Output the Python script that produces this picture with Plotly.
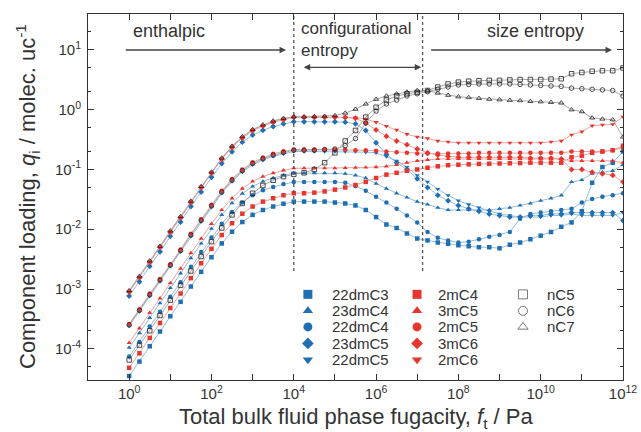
import math
import plotly.graph_objects as go

# total bulk fluid phase fugacity, Pa (4 points per decade, 10^0 .. 10^12)
fug = [1e0, 1.78e0, 3.16e0, 5.62e0, 1e1, 1.78e1, 3.16e1, 5.62e1,
       1e2, 1.78e2, 3.16e2, 5.62e2, 1e3, 1.78e3, 3.16e3, 5.62e3,
       1e4, 1.78e4, 3.16e4, 5.62e4, 1e5, 1.78e5, 3.16e5, 5.62e5,
       1e6, 1.78e6, 3.16e6, 5.62e6, 1e7, 1.78e7, 3.16e7, 5.62e7,
       1e8, 1.78e8, 3.16e8, 5.62e8, 1e9, 1.78e9, 3.16e9, 5.62e9,
       1e10, 1.78e10, 3.16e10, 5.62e10, 1e11, 1.78e11, 3.16e11, 5.62e11, 1e12]

# component loadings, molecules per unit cell
q_22dmC3 = [3.5e-5, 6.1e-5, 1.1e-4, 1.94e-4, 3.5e-4, 6.1e-4, 1.1e-3, 1.94e-3, 3.4e-3, 5.8e-3, 9.1e-3, 1.32e-2, 1.74e-2, 2.1e-2, 2.4e-2, 2.67e-2,
            0.029, 0.029, 0.029, 0.029, 0.028, 0.027, 0.025, 0.021, 0.016, 0.012, 0.0105, 0.0085, 0.007, 0.0065, 0.006, 0.0057,
            0.0054, 0.0052, 0.005, 0.005, 0.0048, 0.0055, 0.006, 0.0068, 0.0078, 0.009, 0.011, 0.013, 0.02, 0.06, 0.11, 0.13, 0.2]
q_23dmC4 = [1.04e-4, 1.83e-4, 3.3e-4, 5.8e-4, 1.04e-3, 1.83e-3, 3.3e-3, 5.8e-3, 1.02e-2, 1.74e-2, 2.74e-2, 3.96e-2, 5.2e-2, 6.3e-2, 7.2e-2, 8.0e-2,
            0.087, 0.087, 0.087, 0.087, 0.087, 0.085, 0.08, 0.072, 0.058, 0.048, 0.04, 0.034, 0.029, 0.026, 0.023, 0.021,
            0.021, 0.021, 0.021, 0.021, 0.022, 0.023, 0.025, 0.027, 0.03, 0.033, 0.037, 0.062, 0.067, 0.085, 0.09, 0.095, 0.12]
q_22dmC4 = [7.4e-5, 1.3e-4, 2.36e-4, 4.15e-4, 7.4e-4, 1.3e-3, 2.36e-3, 4.15e-3, 7.3e-3, 1.24e-2, 1.95e-2, 2.8e-2, 3.7e-2, 4.5e-2, 5.1e-2, 5.7e-2,
            0.062, 0.062, 0.062, 0.062, 0.062, 0.06, 0.053, 0.044, 0.035, 0.028, 0.022, 0.017, 0.013, 0.009, 0.0072, 0.0065,
            0.006, 0.0062, 0.0068, 0.0075, 0.008, 0.009, 0.015, 0.018, 0.019, 0.02, 0.021, 0.022, 0.028, 0.032, 0.035, 0.037, 0.04]
q_23dmC5 = [7.6e-4, 1.32e-3, 2.4e-3, 4.2e-3, 7.6e-3, 1.32e-2, 2.4e-2, 4.2e-2, 7.4e-2, 0.126, 0.198, 0.287, 0.378, 0.454, 0.523, 0.58,
            0.63, 0.63, 0.63, 0.63, 0.63, 0.62, 0.58, 0.45, 0.28, 0.18, 0.13, 0.1, 0.07, 0.05, 0.037, 0.03,
            0.025, 0.022, 0.02, 0.018, 0.017, 0.016, 0.016, 0.017, 0.017, 0.018, 0.018, 0.019, 0.019, 0.019, 0.019, 0.019, 0.014]
q_22dmC5 = [2.4e-4, 4.2e-4, 7.6e-4, 1.34e-3, 2.4e-3, 4.2e-3, 7.6e-3, 1.34e-2, 2.34e-2, 4.0e-2, 6.3e-2, 9.1e-2, 0.12, 0.144, 0.166, 0.184,
            0.2, 0.2, 0.2, 0.2, 0.2, 0.2, 0.2, 0.195, 0.19, 0.165, 0.14, 0.11, 0.08, 0.062, 0.047, 0.037,
            0.03, 0.026, 0.023, 0.02, 0.018, 0.017, 0.016, 0.016, 0.016, 0.017, 0.017, 0.018, 0.017, 0.017, 0.017, 0.017, 0.019]
q_2mC4 = [4.8e-5, 8.4e-5, 1.52e-4, 2.7e-4, 4.8e-4, 8.4e-4, 1.52e-3, 2.7e-3, 4.7e-3, 8.0e-3, 1.26e-2, 1.82e-2, 2.4e-2, 2.9e-2, 3.3e-2, 3.7e-2,
          0.04, 0.04, 0.041, 0.043, 0.046, 0.05, 0.055, 0.062, 0.072, 0.082, 0.088, 0.095, 0.1, 0.107, 0.113, 0.118,
          0.12, 0.122, 0.124, 0.125, 0.126, 0.127, 0.128, 0.13, 0.13, 0.13, 0.13, 0.16, 0.17, 0.19, 0.2, 0.21, 0.25]
q_3mC5 = [1.26e-4, 2.2e-4, 4.0e-4, 7.0e-4, 1.26e-3, 2.2e-3, 4.0e-3, 7.0e-3, 1.23e-2, 2.1e-2, 3.3e-2, 4.8e-2, 6.3e-2, 7.6e-2, 8.7e-2, 9.7e-2,
          0.105, 0.105, 0.105, 0.105, 0.105, 0.106, 0.107, 0.108, 0.11, 0.113, 0.12, 0.13, 0.14, 0.145, 0.15, 0.15,
          0.15, 0.15, 0.15, 0.15, 0.15, 0.15, 0.15, 0.15, 0.15, 0.15, 0.15, 0.14, 0.14, 0.14, 0.14, 0.14, 0.13]
q_2mC5 = [2.6e-4, 4.6e-4, 8.4e-4, 1.47e-3, 2.6e-3, 4.6e-3, 8.4e-3, 1.47e-2, 2.57e-2, 4.4e-2, 6.9e-2, 0.1, 0.132, 0.158, 0.183, 0.202,
          0.215, 0.215, 0.215, 0.215, 0.215, 0.215, 0.21, 0.21, 0.205, 0.2, 0.195, 0.19, 0.185, 0.185, 0.185, 0.185,
          0.185, 0.185, 0.19, 0.19, 0.19, 0.19, 0.19, 0.19, 0.19, 0.19, 0.19, 0.2, 0.2, 0.2, 0.2, 0.21, 0.23]
q_3mC6 = [8.9e-4, 1.55e-3, 2.8e-3, 5.0e-3, 8.9e-3, 1.55e-2, 2.8e-2, 5.0e-2, 8.7e-2, 0.148, 0.233, 0.337, 0.444, 0.533, 0.614, 0.68,
          0.75, 0.75, 0.75, 0.75, 0.75, 0.74, 0.72, 0.6, 0.46, 0.36, 0.3, 0.26, 0.22, 0.19, 0.175, 0.165,
          0.16, 0.16, 0.16, 0.16, 0.16, 0.16, 0.16, 0.155, 0.155, 0.155, 0.15, 0.1, 0.1, 0.09, 0.085, 0.08, 0.062]
q_2mC6 = [9.0e-4, 1.58e-3, 2.9e-3, 5.1e-3, 9.0e-3, 1.58e-2, 2.9e-2, 5.1e-2, 8.9e-2, 0.152, 0.24, 0.346, 0.456, 0.547, 0.63, 0.70,
          0.76, 0.76, 0.76, 0.76, 0.76, 0.76, 0.74, 0.7, 0.62, 0.53, 0.46, 0.39, 0.35, 0.33, 0.3, 0.29,
          0.28, 0.28, 0.28, 0.28, 0.28, 0.28, 0.28, 0.28, 0.28, 0.29, 0.3, 0.38, 0.43, 0.54, 0.56, 0.57, 0.76]
q_nC5 = [6.5e-5, 1.15e-4, 2.0e-4, 3.6e-4, 6.5e-4, 1.15e-3, 2.0e-3, 3.5e-3, 6.2e-3, 1.05e-2, 1.74e-2, 2.7e-2, 4.0e-2, 5.4e-2, 6.6e-2, 7.6e-2,
         0.083, 0.088, 0.1, 0.13, 0.19, 0.3, 0.45, 0.75, 1.1, 1.45, 1.7, 1.85, 1.95, 2.1, 2.4, 2.7,
         2.9, 3.0, 3.05, 3.1, 3.1, 3.15, 3.2, 3.2, 3.2, 3.25, 3.3, 4.0, 4.2, 4.4, 4.5, 4.5, 5.0]
q_nC6 = [2.5e-4, 4.4e-4, 8.0e-4, 1.41e-3, 2.5e-3, 4.4e-3, 8.0e-3, 1.41e-2, 2.46e-2, 4.2e-2, 6.6e-2, 9.6e-2, 0.126, 0.151, 0.174, 0.193,
         0.21, 0.21, 0.21, 0.215, 0.22, 0.25, 0.33, 0.6, 0.95, 1.25, 1.45, 1.7, 1.85, 2.0, 2.2, 2.4,
         2.6, 2.65, 2.7, 2.7, 2.7, 2.7, 2.65, 2.6, 2.55, 2.5, 2.45, 2.3, 2.25, 2.2, 2.15, 2.1, 1.7]
q_nC7 = [9.4e-4, 1.64e-3, 2.96e-3, 5.2e-3, 9.4e-3, 1.64e-2, 2.96e-2, 5.2e-2, 9.1e-2, 0.156, 0.246, 0.355, 0.468, 0.56, 0.65, 0.72,
         0.76, 0.76, 0.77, 0.78, 0.8, 0.88, 1.02, 1.25, 1.5, 1.7, 1.85, 1.98, 2.1, 2.1, 1.9, 1.75,
         1.65, 1.6, 1.55, 1.5, 1.47, 1.44, 1.42, 1.38, 1.36, 1.33, 1.3, 1.0, 0.93, 0.73, 0.7, 0.68, 0.35]

# regime boundaries (dashed lines) and their vertical extent
regime_f = [1e4, 1.35e7]
regime_q = [2e-3, 40]

x_tickvals = [1e0, 1e1, 1e2, 1e3, 1e4, 1e5, 1e6, 1e7, 1e8, 1e9, 1e10, 1e11, 1e12]
x_ticktext = ["10<sup>0</sup>", "", "10<sup>2</sup>", "", "10<sup>4</sup>", "", "10<sup>6</sup>", "",
              "10<sup>8</sup>", "", "10<sup>10</sup>", "", "10<sup>12</sup>"]
y_tickvals = [1e-4, 1e-3, 1e-2, 1e-1, 1e0, 1e1]
y_ticktext = ["10<sup>-4</sup>", "10<sup>-3</sup>", "10<sup>-2</sup>", "10<sup>-1</sup>", "10<sup>0</sup>", "10<sup>1</sup>"]
y_minor = [5e-5, 2e-4, 5e-4, 2e-3, 5e-3, 2e-2, 5e-2, 2e-1, 5e-1, 2e0, 5e0, 2e1]

BLUE = "#1f6fb2"
RED = "#e8352e"
BLUE_LINE = "#93bde0"
RED_LINE = "#f2a3a0"
GREY_LINE = "#a8a8a8"
OPEN = "#222222"

series = [
    ("22dmC3", q_22dmC3, "square", BLUE, BLUE_LINE),
    ("23dmC4", q_23dmC4, "triangle-up", BLUE, BLUE_LINE),
    ("22dmC4", q_22dmC4, "circle", BLUE, BLUE_LINE),
    ("23dmC5", q_23dmC5, "diamond", BLUE, BLUE_LINE),
    ("22dmC5", q_22dmC5, "triangle-down", BLUE, BLUE_LINE),
    ("2mC4", q_2mC4, "square", RED, RED_LINE),
    ("3mC5", q_3mC5, "triangle-up", RED, RED_LINE),
    ("2mC5", q_2mC5, "circle", RED, RED_LINE),
    ("3mC6", q_3mC6, "diamond", RED, RED_LINE),
    ("2mC6", q_2mC6, "triangle-down", RED, RED_LINE),
    ("nC5", q_nC5, "square-open", OPEN, GREY_LINE),
    ("nC6", q_nC6, "circle-open", OPEN, GREY_LINE),
    ("nC7", q_nC7, "triangle-up-open", OPEN, GREY_LINE),
]

# legend layout: 3 columns x 5 rows, placed as fractions of the plot area
leg_marker_x = [0.411, 0.615, 0.813]
leg_text_x = [0.452, 0.650, 0.854]
leg_row_y = [0.234, 0.189, 0.145, 0.100, 0.055]

fig = go.Figure()

# connecting lines
for name, q, sym, mc, lc in series:
    fig.add_trace(go.Scatter(x=fug, y=q, mode="lines", line=dict(color=lc, width=1),
                             showlegend=False, hoverinfo="skip"))

# markers
for name, q, sym, mc, lc in series:
    is_open = sym.endswith("open")
    fig.add_trace(go.Scatter(
        x=fug, y=q, mode="markers", name=name, showlegend=False,
        marker=dict(symbol=sym, size=4.5, color=mc,
                    line=dict(width=0.8 if is_open else 0, color=mc)),
    ))

# regime boundaries
for fb in regime_f:
    fig.add_trace(go.Scatter(x=[fb, fb], y=regime_q, mode="lines",
                             line=dict(color="#555555", width=1.3, dash="dot"),
                             showlegend=False, hoverinfo="skip"))

# legend key (drawn on an overlay axis spanning the plot area)
leg_font = dict(family="Liberation Sans, Arial", size=15, color="#333")
for i, (name, q, sym, mc, lc) in enumerate(series):
    col, row = divmod(i, 5)
    is_open = sym.endswith("open")
    fig.add_trace(go.Scatter(
        x=[leg_marker_x[col]], y=[leg_row_y[row]], xaxis="x2", yaxis="y2",
        mode="markers", showlegend=False, hoverinfo="skip",
        marker=dict(symbol=sym, size=9,
                    color=mc if not is_open else "#777777",
                    line=dict(width=1 if is_open else 0, color="#777777" if is_open else mc)),
    ))
    fig.add_annotation(x=leg_text_x[col], y=leg_row_y[row], xref="paper", yref="paper",
                       text=name, showarrow=False, xanchor="left", yanchor="middle", font=leg_font)

axis_common = dict(ticks="inside", ticklen=6, tickcolor="#333", mirror="ticks", showline=True,
                   linecolor="#333", linewidth=1, showgrid=False, zeroline=False,
                   tickfont=dict(size=15, color="#333"), automargin=False)
fig.update_layout(
    width=641, height=432,
    margin=dict(l=88, r=18, t=14, b=52),
    paper_bgcolor="white", plot_bgcolor="white",
    font=dict(family="Liberation Sans, Arial", color="#333"),
    showlegend=False,
    xaxis=dict(type="log", range=[-1, 12], tickvals=x_tickvals, ticktext=x_ticktext, **axis_common),
    yaxis=dict(type="log", range=[math.log10(3e-5), math.log10(40)], tickvals=y_tickvals,
               ticktext=y_ticktext, ticklabelstandoff=3,
               minor=dict(tickvals=y_minor, ticks="inside", ticklen=3, tickcolor="#333"),
               **axis_common),
    xaxis2=dict(overlaying="x", anchor="y2", range=[0, 1], visible=False, fixedrange=True),
    yaxis2=dict(overlaying="y", anchor="x2", range=[0, 1], visible=False, fixedrange=True),
)

# axis titles
title_font = dict(family="Liberation Sans, Arial", size=22, color="#333")
fig.add_annotation(x=0.5, y=-0.104, xref="paper", yref="paper", showarrow=False,
                   text="Total bulk fluid phase fugacity, <i>f</i><sub>t</sub> / Pa",
                   xanchor="center", yanchor="middle", font=title_font)
fig.add_annotation(x=-0.114, y=0.5, xref="paper", yref="paper", showarrow=False, textangle=-90,
                   text="Component loading, <i>q</i><sub>i</sub> / molec. uc<sup>-1</sup>",
                   xanchor="center", yanchor="middle", font=title_font)

# regime annotations
lx = math.log10
ann_font = dict(family="Liberation Sans, Arial", size=18, color="#333")
arrow_kw = dict(showarrow=True, arrowhead=2, arrowsize=1, arrowwidth=1.3, arrowcolor="#444",
                axref="x", ayref="y", text="")
fig.add_annotation(x=lx(6.5e3), y=1.0, ax=lx(0.76), ay=1.0, **arrow_kw)
fig.add_annotation(x=lx(1.25e7), y=0.71, ax=lx(1.6e4), ay=0.71, arrowside="end+start", **arrow_kw)
fig.add_annotation(x=lx(5.4e11), y=1.0, ax=lx(2.0e7), ay=1.0, **arrow_kw)
fig.add_annotation(x=lx(1.1), y=1.31, text="enthalpic", showarrow=False, xanchor="left", font=ann_font)
fig.add_annotation(x=lx(1.35e4), y=1.18, text="configurational<br>entropy", showarrow=False,
                   xanchor="left", align="left", font=dict(ann_font, size=17))
fig.add_annotation(x=lx(7.4e9), y=1.31, text="size entropy", showarrow=False, font=ann_font)

fig.write_html("out.html", config={"displayModeBar": False},
               post_script="document.body.style.margin='0px';")
